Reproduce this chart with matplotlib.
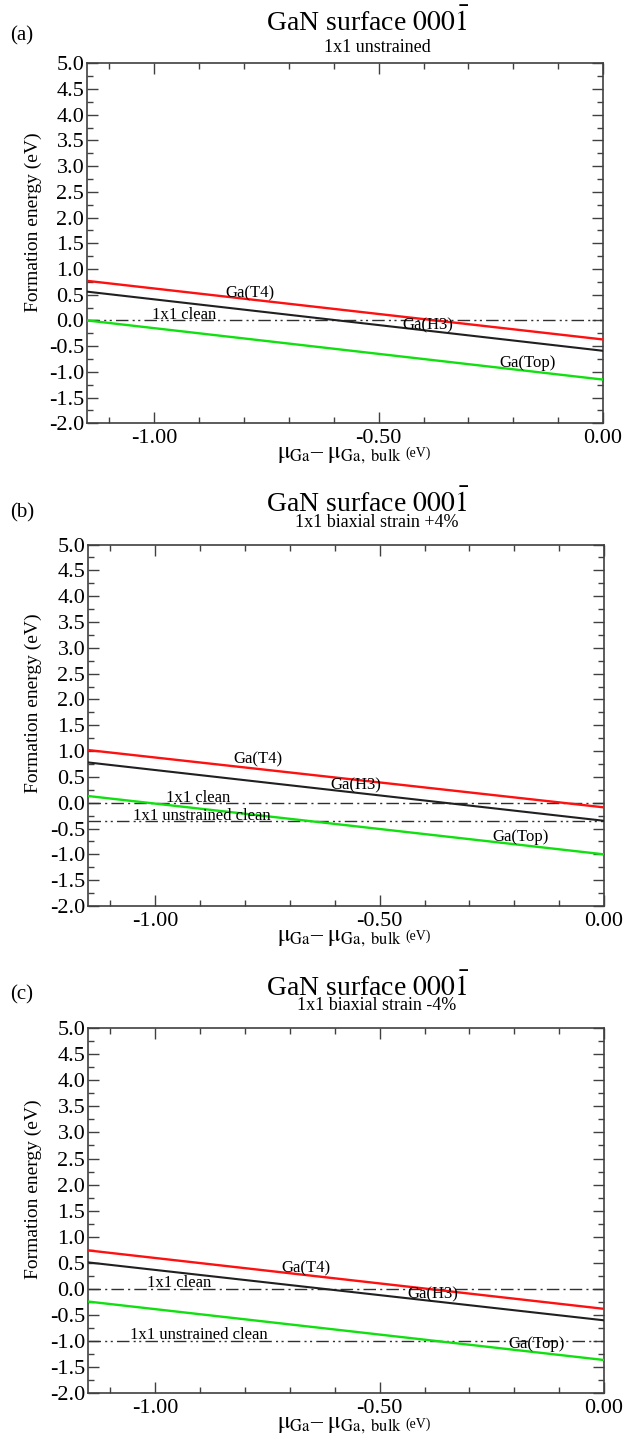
import matplotlib
matplotlib.use("Agg")
import matplotlib.pyplot as plt
from matplotlib.ticker import MultipleLocator, FixedLocator, FixedFormatter

plt.rcParams['font.family'] = ['Liberation Serif', 'DejaVu Serif']
plt.rcParams['mathtext.fontset'] = 'stix'
plt.rcParams['axes.unicode_minus'] = False

# ---- data ----
mu = [-1.15, 0.0]
panels = ['(a)', '(b)', '(c)']
subtitles = ['1x1 unstrained', '1x1 biaxial strain +4%', '1x1 biaxial strain -4%']

t4 = [[0.77, -0.37], [1.02, -0.09], [0.74, -0.38]]
h3 = [[0.56, -0.59], [0.78, -0.35], [0.51, -0.60]]
top = [[0.00, -1.15], [0.13, -1.00], [-0.24, -1.36]]
clean = [0.0, 0.0, 0.0]
unstrained_clean = [None, -0.35, -1.00]

# label positions (data coords)
lab_t4 = [(-0.787, 0.52), (-0.771, 0.83), (-0.665, 0.39)]
lab_h3 = [(-0.39, -0.10), (-0.553, 0.33), (-0.382, -0.11)]
lab_top = [(-0.168, -0.83), (-0.187, -0.67), (-0.150, -1.06)]
lab_clean = [(-0.934, 0.10), (-0.905, 0.10), (-0.947, 0.11)]
lab_unstr = [None, (-0.896, -0.25), (-0.903, -0.88)]

xticks = [-1.0, -0.5, 0.0]
xticklabels = ['-1.00', '-0.50', '0.00']
yticks = [-2.0, -1.5, -1.0, -0.5, 0.0, 0.5, 1.0, 1.5, 2.0, 2.5, 3.0, 3.5, 4.0, 4.5, 5.0]
yticklabels = ['%.1f' % v for v in yticks]

W, H = 626, 1439
fig = plt.figure(figsize=(W / 100, H / 100), dpi=100)

# axes pixel boxes: (left, top, right, bottom)
boxes = [(87, 63.3, 603, 423.3), (88, 544.5, 604, 906), (88, 1028, 604, 1393.4)]
sub_off = [16, 22, 23]
pan_off = [27, 32, 33]

def fx(px):
    return px / W

def fy(py):
    return 1 - py / H

spine_col = '#404040'
clean_dash = (0, (9, 3, 1.5, 3))
unstr_dash = (0, (9, 3, 1.5, 2.5, 1.5, 3))
clean_dash_a = (0, (9, 3, 1.5, 2.5, 1.5, 3))

for i in range(3):
    l, t, r, b = boxes[i]
    ax = fig.add_axes([fx(l), fy(b), fx(r) - fx(l), (b - t) / H])
    ax.set_xlim(-1.15, 0.0)
    ax.set_ylim(-2.0, 5.0)

    ax.plot(mu, t4[i], color='#ff1010', lw=1.7, zorder=3)
    ax.plot(mu, h3[i], color='#202020', lw=1.5, zorder=3)
    ax.plot(mu, top[i], color='#10e010', lw=1.7, zorder=3)
    ax.plot(mu, [clean[i], clean[i]], color='#303030', lw=1.0,
            linestyle=clean_dash_a if i == 0 else clean_dash, zorder=2)
    if unstrained_clean[i] is not None:
        ax.plot(mu, [unstrained_clean[i]] * 2, color='#303030', lw=1.0,
                linestyle=unstr_dash, zorder=2)

    fs = 12
    ax.text(*lab_t4[i], 'Ga(T4)', fontsize=fs, ha='center', va='center')
    ax.text(*lab_h3[i], 'Ga(H3)', fontsize=fs, ha='center', va='center')
    ax.text(*lab_top[i], 'Ga(Top)', fontsize=fs, ha='center', va='center')
    ax.text(*lab_clean[i], '1x1 clean', fontsize=fs, ha='center', va='center')
    if lab_unstr[i] is not None:
        ax.text(*lab_unstr[i], '1x1 unstrained clean', fontsize=fs, ha='center', va='center')

    ax.xaxis.set_major_locator(FixedLocator(xticks))
    ax.xaxis.set_major_formatter(FixedFormatter(xticklabels))
    ax.xaxis.set_minor_locator(MultipleLocator(0.1))
    ax.yaxis.set_major_locator(FixedLocator(yticks))
    ax.yaxis.set_major_formatter(FixedFormatter(yticklabels))
    ax.yaxis.set_minor_locator(MultipleLocator(0.25))
    ax.tick_params(which='both', direction='in', top=True, right=True,
                   color=spine_col, width=1.0, labelsize=16)
    ax.tick_params(which='major', length=8, pad=4)
    ax.tick_params(which='minor', length=4)
    ax.tick_params(axis='y', which='major', pad=2)
    for s in ax.spines.values():
        s.set_color(spine_col)
        s.set_linewidth(1.2)

    # titles
    fig.text(fx(368), fy(t - 41), r'GaN surface $000\bar{1}$', fontsize=20,
             ha='center', va='center')
    fig.text(fx(377), fy(t - sub_off[i]), subtitles[i], fontsize=13,
             ha='center', va='center')
    fig.text(fx(10), fy(t - pan_off[i]), panels[i], fontsize=15,
             ha='left', va='center')

    # y label
    yc = t + 0.44 * (b - t)
    fig.text(fx(33), fy(yc), 'Formation energy (eV)', fontsize=14,
             rotation=90, ha='center', va='center')

    # x label
    fig.text(fx(402), fy(b + 35), r'$\mathrm{\mu}_{\mathrm{Ga}}$– $\mathrm{\mu}_{\mathrm{Ga,\ bulk}}$',
             fontsize=17, ha='right', va='baseline')
    fig.text(fx(405), fy(b + 34), '(eV)', fontsize=10, ha='left', va='baseline')

fig.savefig('out.png', dpi=100)
